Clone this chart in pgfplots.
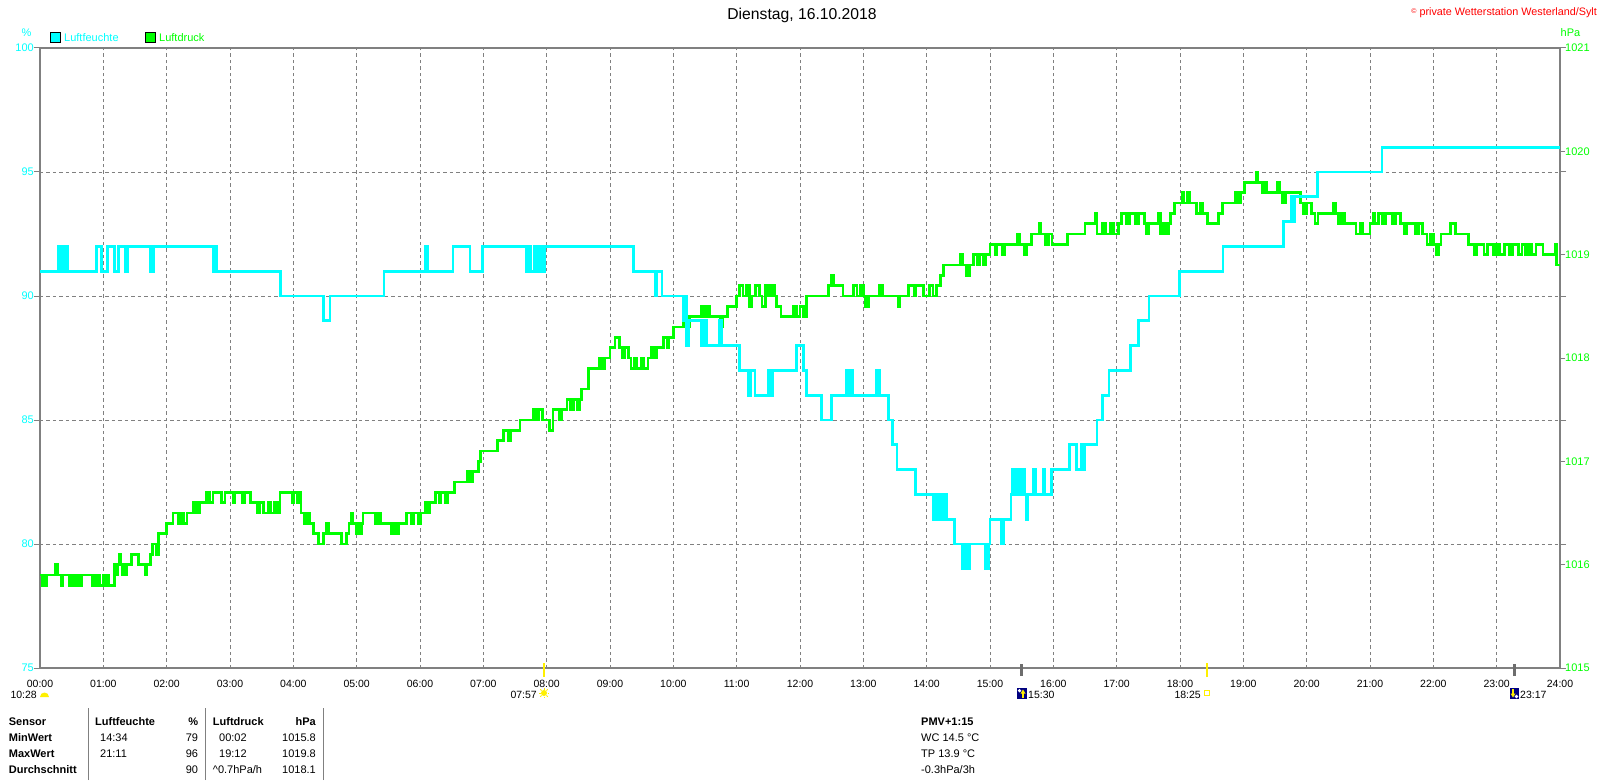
\documentclass[border=0pt]{standalone}
\usepackage{fontspec}
\setmainfont{Liberation Sans}
\usepackage{pgfplots}
\pgfplotsset{compat=1.18}
\usepackage{pgfplotstable}
\definecolor{cy}{RGB}{0,255,255}
\definecolor{gr}{RGB}{0,255,0}
\definecolor{fr}{RGB}{128,128,128}
\definecolor{navy}{RGB}{0,0,128}
\definecolor{sun}{RGB}{255,240,0}

\pgfplotstableread{
h p
0.00 1015.9
0.03 1015.8
0.06 1015.9
0.08 1015.8
0.10 1015.9
0.24 1016.0
0.27 1015.9
0.33 1015.8
0.35 1015.9
0.47 1015.8
0.49 1015.9
0.52 1015.8
0.54 1015.9
0.58 1015.8
0.60 1015.9
0.63 1015.8
0.65 1015.9
0.82 1015.8
0.85 1015.9
0.87 1015.8
0.92 1015.9
0.94 1015.8
1.00 1015.9
1.02 1015.8
1.07 1015.9
1.09 1015.8
1.18 1016.0
1.20 1015.9
1.22 1016.0
1.26 1016.1
1.28 1016.0
1.30 1015.9
1.32 1016.0
1.35 1015.9
1.37 1016.0
1.45 1016.1
1.55 1016.0
1.66 1015.9
1.68 1016.0
1.74 1016.1
1.78 1016.2
1.84 1016.1
1.87 1016.3
2.00 1016.4
2.10 1016.5
2.18 1016.4
2.22 1016.5
2.27 1016.4
2.32 1016.5
2.42 1016.6
2.47 1016.5
2.52 1016.6
2.63 1016.7
2.68 1016.6
2.73 1016.7
2.87 1016.6
2.92 1016.7
3.05 1016.6
3.08 1016.7
3.20 1016.6
3.23 1016.7
3.32 1016.6
3.44 1016.5
3.47 1016.6
3.53 1016.5
3.60 1016.6
3.64 1016.5
3.70 1016.6
3.75 1016.5
3.79 1016.7
3.98 1016.6
4.01 1016.7
4.07 1016.6
4.10 1016.7
4.12 1016.5
4.18 1016.4
4.22 1016.5
4.26 1016.4
4.32 1016.3
4.40 1016.2
4.48 1016.3
4.52 1016.4
4.55 1016.3
4.76 1016.2
4.84 1016.3
4.88 1016.4
4.91 1016.5
4.93 1016.4
5.00 1016.3
5.03 1016.4
5.06 1016.3
5.08 1016.4
5.10 1016.5
5.30 1016.4
5.33 1016.5
5.38 1016.4
5.55 1016.3
5.59 1016.4
5.62 1016.3
5.66 1016.4
5.79 1016.5
5.86 1016.4
5.90 1016.5
5.98 1016.4
6.01 1016.5
6.08 1016.6
6.12 1016.5
6.15 1016.6
6.24 1016.7
6.30 1016.6
6.33 1016.7
6.40 1016.6
6.43 1016.7
6.55 1016.8
6.75 1016.9
6.80 1016.8
6.83 1016.9
6.92 1017.0
6.96 1017.1
7.22 1017.2
7.32 1017.3
7.40 1017.2
7.43 1017.3
7.58 1017.4
7.79 1017.5
7.84 1017.4
7.88 1017.5
7.93 1017.4
8.05 1017.3
8.10 1017.5
8.20 1017.4
8.23 1017.5
8.32 1017.6
8.38 1017.5
8.42 1017.6
8.48 1017.5
8.52 1017.6
8.55 1017.7
8.66 1017.9
8.84 1018.0
8.88 1017.9
8.92 1018.0
9.00 1018.1
9.08 1018.2
9.15 1018.1
9.20 1018.0
9.23 1018.1
9.29 1018.0
9.33 1017.9
9.38 1018.0
9.42 1017.9
9.50 1018.0
9.53 1017.9
9.60 1018.0
9.65 1018.1
9.70 1018.0
9.73 1018.1
9.84 1018.2
9.90 1018.1
9.93 1018.2
10.00 1018.3
10.16 1018.4
10.22 1018.3
10.25 1018.4
10.45 1018.5
10.48 1018.4
10.52 1018.5
10.57 1018.4
10.74 1018.3
10.78 1018.4
10.85 1018.5
11.00 1018.6
11.05 1018.7
11.10 1018.6
11.15 1018.7
11.20 1018.5
11.24 1018.6
11.30 1018.7
11.36 1018.6
11.40 1018.5
11.45 1018.7
11.50 1018.6
11.55 1018.7
11.60 1018.6
11.63 1018.5
11.70 1018.4
11.90 1018.5
11.95 1018.4
12.00 1018.5
12.05 1018.4
12.10 1018.6
12.45 1018.7
12.50 1018.8
12.53 1018.7
12.68 1018.6
12.84 1018.7
12.90 1018.6
12.95 1018.7
13.00 1018.6
13.04 1018.5
13.08 1018.6
13.26 1018.7
13.30 1018.6
13.55 1018.5
13.58 1018.6
13.71 1018.7
13.80 1018.6
13.83 1018.7
13.95 1018.6
14.05 1018.7
14.10 1018.6
14.16 1018.7
14.22 1018.8
14.26 1018.9
14.53 1019.0
14.57 1018.9
14.63 1018.8
14.68 1018.9
14.74 1019.0
14.80 1018.9
14.83 1019.0
14.90 1018.9
14.93 1019.0
15.00 1019.1
15.08 1019.0
15.11 1019.1
15.20 1019.0
15.23 1019.1
15.43 1019.2
15.46 1019.1
15.55 1019.0
15.58 1019.1
15.66 1019.2
15.78 1019.3
15.80 1019.2
15.88 1019.1
15.92 1019.2
15.98 1019.1
16.22 1019.2
16.50 1019.3
16.66 1019.4
16.69 1019.2
16.78 1019.3
16.82 1019.2
16.90 1019.3
16.95 1019.2
17.03 1019.3
17.08 1019.4
17.15 1019.3
17.20 1019.4
17.30 1019.3
17.35 1019.4
17.44 1019.3
17.47 1019.2
17.50 1019.3
17.66 1019.4
17.69 1019.2
17.74 1019.3
17.78 1019.2
17.82 1019.3
17.85 1019.4
17.91 1019.5
18.03 1019.6
18.06 1019.5
18.12 1019.6
18.15 1019.5
18.26 1019.4
18.32 1019.5
18.36 1019.4
18.44 1019.3
18.61 1019.4
18.67 1019.5
18.88 1019.6
18.92 1019.5
18.96 1019.6
19.02 1019.7
19.20 1019.8
19.22 1019.7
19.30 1019.6
19.33 1019.7
19.37 1019.6
19.54 1019.7
19.57 1019.6
19.62 1019.5
19.67 1019.6
19.90 1019.5
19.95 1019.4
20.00 1019.5
20.07 1019.4
20.13 1019.3
20.18 1019.4
20.42 1019.5
20.45 1019.4
20.50 1019.3
20.55 1019.4
20.60 1019.3
20.78 1019.2
20.85 1019.3
20.88 1019.2
21.00 1019.3
21.05 1019.4
21.08 1019.3
21.13 1019.4
21.20 1019.3
21.25 1019.4
21.35 1019.3
21.40 1019.4
21.48 1019.3
21.55 1019.2
21.58 1019.3
21.72 1019.2
21.76 1019.3
21.83 1019.2
21.90 1019.1
21.95 1019.2
22.00 1019.1
22.05 1019.0
22.08 1019.1
22.12 1019.2
22.27 1019.3
22.35 1019.2
22.55 1019.1
22.65 1019.0
22.68 1019.1
22.80 1019.0
22.85 1019.1
22.95 1019.0
23.00 1019.1
23.05 1019.0
23.12 1019.1
23.20 1019.0
23.25 1019.1
23.35 1019.0
23.40 1019.1
23.45 1019.0
23.50 1019.1
23.55 1019.0
23.62 1019.1
23.73 1019.0
23.92 1019.1
23.95 1018.9
24.00 1018.9
}\pressure

\pgfplotstableread{
h rh
0.00 91
0.29 92
0.34 91
0.39 92
0.43 91
0.89 92
0.97 91
1.07 92
1.18 91
1.24 92
1.35 91
1.39 92
1.74 91
1.79 92
2.74 91
2.77 92
2.79 91
3.80 90
4.47 89
4.58 90
5.43 91
6.09 92
6.12 91
6.52 92
6.79 91
6.99 92
7.68 91
7.72 92
7.75 91
7.80 92
7.84 91
7.88 92
7.92 91
7.96 92
9.37 91
9.71 90
9.74 91
9.82 90
10.16 89
10.19 90
10.21 88
10.24 89
10.45 88
10.49 89
10.52 88
10.73 89
10.76 88
11.05 87
11.18 86
11.22 87
11.29 86
11.50 87
11.54 86
11.57 87
11.95 88
12.05 87
12.10 86
12.34 85
12.50 86
12.74 87
12.77 86
12.80 87
12.83 86
13.21 87
13.25 86
13.40 85
13.46 84
13.53 83
13.82 82
14.11 81
14.14 82
14.18 81
14.21 82
14.24 81
14.28 82
14.31 81
14.44 80
14.56 79
14.60 80
14.65 79
14.68 80
14.93 79
14.97 80
15.00 81
15.18 80
15.22 81
15.33 82
15.36 83
15.40 82
15.43 83
15.47 82
15.50 83
15.55 82
15.58 81
15.60 82
15.69 83
15.72 82
15.84 83
15.86 82
15.97 83
16.25 84
16.37 83
16.44 84
16.46 83
16.49 84
16.69 85
16.78 86
16.88 87
17.22 88
17.34 89
17.51 90
17.99 91
18.68 92
19.63 93
19.76 94
19.79 93
19.81 94
20.17 95
21.19 96
24.00 96
}\humid

\pgfplotsset{base/.style={width=1520pt,height=620pt,scale only axis,xmin=0,xmax=24}}

\begin{document}
\begin{tikzpicture}
\begin{axis}[base,
  ymin=75,ymax=100,
  xtick={0,1,...,24},
  xticklabels={00:00,01:00,02:00,03:00,04:00,05:00,06:00,07:00,08:00,09:00,10:00,11:00,12:00,13:00,14:00,15:00,16:00,17:00,18:00,19:00,20:00,21:00,22:00,23:00,24:00},
  ytick={75,80,85,90,95,100},
  yticklabels={75,80,85,90,95,100},
  grid=major,
  major grid style={draw=fr, line width=0.9pt, dash pattern=on 3.5pt off 3pt},
  axis line style={draw=fr, line width=2.5pt},
  tick align=outside,
  major tick length=6pt,
  ytick style={draw=fr, line width=1pt},
  xtick style={draw=none},
  xticklabel style={font=\fontsize{10.5}{12}\selectfont, anchor=base, text=black, yshift=-13.5pt},
  yticklabel style={font=\fontsize{11}{13}\selectfont, text=cy, anchor=east, inner sep=0pt},
]
\end{axis}
\begin{axis}[base,
  ymin=1015,ymax=1021,
  axis y line*=right, axis x line=none,
  ytick={1015,1016,1017,1018,1019,1020,1021},
  yticklabels={1015,1016,1017,1018,1019,1020,1021},
  axis line style={draw=fr, line width=2.5pt},
  tick align=outside,
  major tick length=5pt,
  ytick style={draw=fr, line width=1pt},
  yticklabel style={font=\fontsize{11}{13}\selectfont, text=gr, anchor=west, inner sep=0pt},
]
\addplot[const plot, draw=gr, line width=2.8pt] table[x=h,y=p]{\pressure};
\end{axis}
\begin{axis}[base, ymin=75,ymax=100, hide axis]
\addplot[const plot, draw=cy, line width=2.8pt] table[x=h,y=rh]{\humid};
\end{axis}

\begin{scope}[shift={(-40pt,-112pt)}, x=1pt, y=1pt]
% header texts
\node[font=\fontsize{15.7}{18}\selectfont, inner sep=0] at (802,765) {Dienstag, 16.10.2018};
\node[anchor=east, text=red, font=\fontsize{10.8}{12}\selectfont, inner sep=0] at (1597,767) {{\fontsize{7}{8}\selectfont\raisebox{2pt}{©}} private Wetterstation Westerland/Sylt};
\node[text=cy, font=\fontsize{11}{13}\selectfont, inner sep=0] at (26.5,747.5) {\%};
\node[text=gr, font=\fontsize{11}{13}\selectfont, inner sep=0] at (1570.5,747) {hPa};
\draw[fill=cy, draw=black, line width=1pt] (50,737) rectangle (60,747);
\node[anchor=west, inner sep=0, text=cy, font=\fontsize{11}{13}\selectfont] at (64,742) {Luftfeuchte};
\draw[fill=gr, draw=black, line width=1pt] (145,737) rectangle (155,747);
\node[anchor=west, inner sep=0, text=gr, font=\fontsize{11}{13}\selectfont] at (159,742) {Luftdruck};

% sun / moon markers
\begin{scope}[font=\fontsize{10.5}{12}\selectfont]
\node[anchor=base east, inner sep=0] at (37,82) {10:28};
\fill[sun] (40,83) arc (180:0:4.5) -- cycle;
\draw[sun, line width=2pt] (544,103) -- (544,117);
\node[anchor=base east, inner sep=0] at (537,82) {07:57};
\fill[sun] (544,87) circle (3);
\foreach \a in {0,45,...,315} {\draw[sun, line width=0.8pt] (544,87) ++(\a:3.5) -- ++(\a:1.8);}
\draw[sun, line width=2pt] (1206.6,103) -- (1206.6,117);
\node[anchor=base east, inner sep=0] at (1201,82) {18:25};
\draw[sun, line width=1pt] (1204.5,84.5) rectangle (1209.5,89.5);
\draw[fr!85!black, line width=3pt] (1021.7,104) -- (1021.7,116);
\fill[navy] (1017,81) rectangle (1027,92);
\fill[white] (1019.5,89.3) circle (1.8);
\draw[sun, line width=1.4pt] (1023,82) -- (1023,87);
\fill[sun] (1020.5,86.5) -- (1025.5,86.5) -- (1023,90.5) -- cycle;
\node[anchor=base west, inner sep=0] at (1028,82) {15:30};
\draw[fr!85!black, line width=3pt] (1514.5,104) -- (1514.5,116);
\fill[navy] (1510,81) rectangle (1519,92);
\fill[white] (1516.5,83.5) circle (1.8);
\draw[sun, line width=1.4pt] (1513,91) -- (1513,86);
\fill[sun] (1510.5,86.5) -- (1515.5,86.5) -- (1513,82.5) -- cycle;
\node[anchor=base west, inner sep=0] at (1520,82) {23:17};
\end{scope}

% table
\draw[fr, line width=1pt] (88.3,0) -- (88.3,72);
\draw[fr, line width=1pt] (205,0) -- (205,72);
\draw[fr, line width=1pt] (323.3,0) -- (323.3,72);
\begin{scope}[font=\fontsize{11}{13}\selectfont, every node/.style={inner sep=0}]
\node[anchor=base west, font=\fontsize{11}{13}\selectfont\bfseries] at (8.7,54.5) {Sensor};
\node[anchor=base west, font=\fontsize{11}{13}\selectfont\bfseries] at (8.7,38.5) {MinWert};
\node[anchor=base west, font=\fontsize{11}{13}\selectfont\bfseries] at (8.7,22.5) {MaxWert};
\node[anchor=base west, font=\fontsize{11}{13}\selectfont\bfseries] at (8.7,6.5) {Durchschnitt};
\node[anchor=base west, font=\fontsize{11}{13}\selectfont\bfseries] at (95,54.5) {Luftfeuchte};
\node[anchor=base east, font=\fontsize{11}{13}\selectfont\bfseries] at (198.3,54.5) {\%};
\node[anchor=base west] at (100,38.5) {14:34};
\node[anchor=base east] at (198.3,38.5) {79};
\node[anchor=base west] at (100,22.5) {21:11};
\node[anchor=base east] at (198.3,22.5) {96};
\node[anchor=base east] at (198.3,6.5) {90};
\node[anchor=base west, font=\fontsize{11}{13}\selectfont\bfseries] at (212.7,54.5) {Luftdruck};
\node[anchor=base east, font=\fontsize{11}{13}\selectfont\bfseries] at (316,54.5) {hPa};
\node[anchor=base west] at (219,38.5) {00:02};
\node[anchor=base east] at (316,38.5) {1015.8};
\node[anchor=base west] at (219,22.5) {19:12};
\node[anchor=base east] at (316,22.5) {1019.8};
\node[anchor=base west] at (212.7,6.5) {\textasciicircum 0.7hPa/h};
\node[anchor=base east] at (316,6.5) {1018.1};
\node[anchor=base west, font=\fontsize{11}{13}\selectfont\bfseries] at (921,54.5) {PMV+1:15};
\node[anchor=base west] at (921,38.5) {WC 14.5 °C};
\node[anchor=base west] at (921,22.5) {TP 13.9 °C};
\node[anchor=base west] at (921,6.5) {-0.3hPa/3h};
\end{scope}
\end{scope}
\pgfresetboundingbox
\path[use as bounding box] (-40pt,-112pt) rectangle (1560pt,668pt);
\end{tikzpicture}
\end{document}
